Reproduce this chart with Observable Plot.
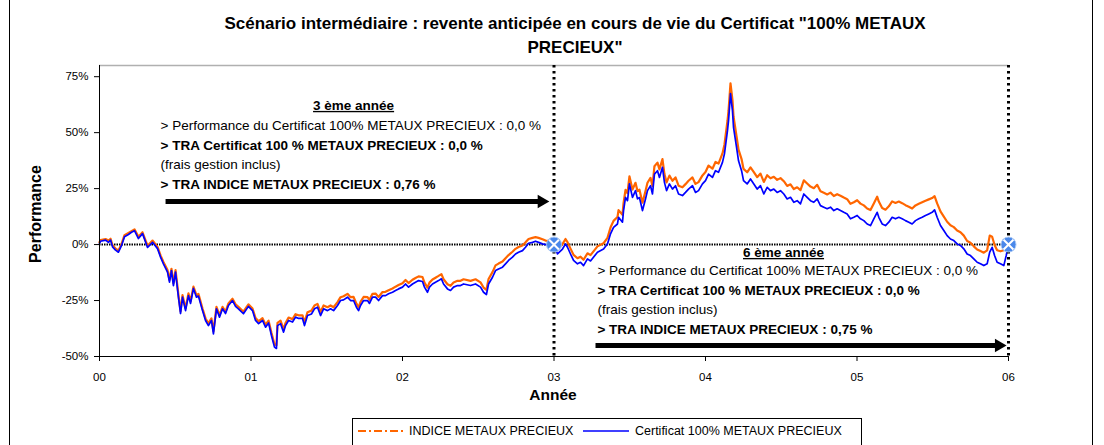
<!DOCTYPE html>
<html><head><meta charset="utf-8">
<script src="https://cdn.jsdelivr.net/npm/d3@7"></script>
<script src="https://cdn.jsdelivr.net/npm/@observablehq/plot@0.6"></script>
<style>
body{margin:0;background:#fff;font-family:"Liberation Sans",Arial,sans-serif;}
#wrap{position:relative;width:1104px;height:445px;overflow:hidden;background:#fff;}
#frame{position:absolute;left:9px;top:-2px;width:1084px;height:470px;border:1px solid #000;box-sizing:border-box;}
#title{position:absolute;left:0;width:1150px;top:12px;text-align:center;font-weight:bold;font-size:17px;line-height:24px;color:#000;}
#chart{position:absolute;left:0;top:0;}
#ylab{position:absolute;left:36px;top:214px;transform:translate(-50%,-50%) rotate(-90deg);font-weight:bold;font-size:16px;white-space:nowrap;}
#xlab{position:absolute;left:553px;top:395px;transform:translate(-50%,-50%);font-weight:bold;font-size:15.5px;}
#legend{position:absolute;left:352px;top:418px;width:510px;height:40px;border:1px solid #000;box-sizing:border-box;font-size:12.5px;}
#legend .it{position:absolute;top:5px;display:flex;align-items:center;white-space:nowrap;}
</style></head>
<body>
<div id="wrap">
  <div id="frame"></div>
  <div id="title">Scénario intermédiaire : revente anticipée en cours de vie du Certificat "100% METAUX<br>PRECIEUX"</div>
  <div id="chart"></div>
  <div id="ylab">Performance</div>
  <div id="xlab">Année</div>
  <div id="legend">
    <div class="it" style="left:3px"><svg width="50" height="14"><line x1="2" x2="48" y1="7" y2="7" stroke="#FF6600" stroke-width="2" stroke-dasharray="8 3 2 3"/></svg><span style="margin-left:3px">INDICE METAUX PRECIEUX</span></div>
    <div class="it" style="left:228px"><svg width="50" height="14"><line x1="2" x2="48" y1="7" y2="7" stroke="#0000FF" stroke-width="1.5"/></svg><span style="margin-left:4px">Certificat 100% METAUX PRECIEUX</span></div>
  </div>
</div>
<script>
// ---- data (years since start, performance in %) ----
const years = [0,0.007,0.040,0.059,0.073,0.086,0.106,0.125,0.145,0.165,0.191,0.211,0.231,0.257,0.284,0.317,0.350,0.383,0.403,0.422,0.449,0.462,0.475,0.488,0.502,0.521,0.535,0.548,0.568,0.587,0.601,0.620,0.640,0.653,0.680,0.700,0.719,0.739,0.752,0.772,0.792,0.812,0.832,0.851,0.878,0.898,0.917,0.950,0.983,1.010,1.030,1.050,1.076,1.096,1.116,1.135,1.155,1.168,1.175,1.195,1.215,1.228,1.248,1.274,1.294,1.314,1.340,1.353,1.373,1.399,1.419,1.439,1.459,1.479,1.505,1.525,1.545,1.571,1.591,1.611,1.637,1.657,1.677,1.696,1.710,1.723,1.743,1.769,1.782,1.802,1.822,1.842,1.868,1.888,1.908,1.934,1.954,1.974,2.000,2.020,2.040,2.066,2.086,2.106,2.132,2.145,2.165,2.178,2.198,2.218,2.238,2.257,2.271,2.297,2.317,2.337,2.363,2.383,2.403,2.449,2.482,2.515,2.535,2.554,2.568,2.594,2.614,2.634,2.660,2.680,2.700,2.726,2.746,2.766,2.792,2.812,2.832,2.858,2.878,2.898,2.924,2.944,3.000,3.023,3.056,3.076,3.089,3.109,3.129,3.155,3.175,3.195,3.221,3.241,3.287,3.327,3.353,3.373,3.393,3.419,3.426,3.452,3.459,3.472,3.485,3.498,3.518,3.538,3.551,3.564,3.584,3.604,3.617,3.637,3.650,3.663,3.683,3.696,3.716,3.729,3.743,3.762,3.782,3.802,3.822,3.848,3.868,3.888,3.914,3.934,3.954,3.980,4.000,4.020,4.046,4.066,4.086,4.112,4.125,4.145,4.152,4.165,4.178,4.185,4.205,4.218,4.238,4.251,4.275,4.297,4.319,4.341,4.363,4.385,4.407,4.429,4.451,4.473,4.495,4.517,4.539,4.561,4.583,4.605,4.627,4.649,4.671,4.693,4.715,4.737,4.759,4.781,4.803,4.825,4.847,4.869,4.891,4.913,4.935,4.957,4.979,5.001,5.023,5.045,5.067,5.089,5.111,5.133,5.144,5.166,5.188,5.210,5.232,5.254,5.276,5.298,5.320,5.342,5.364,5.386,5.408,5.430,5.452,5.474,5.496,5.512,5.529,5.551,5.573,5.595,5.617,5.639,5.661,5.683,5.705,5.727,5.749,5.771,5.793,5.815,5.837,5.859,5.876,5.892,5.908,5.925,5.947,5.969,5.985,6.000];

const certificat = [0.5,1.5,2,1,2,-1,-2.5,-3.4,-0.5,3.5,4.5,5.5,6.2,2.7,4.9,-1.3,1,-1.8,-5.6,-8.6,-12.3,-16.8,-11.6,-18.3,-12.3,-23.5,-30.8,-23.5,-29.5,-22.8,-26.3,-19.6,-23.5,-23,-29.5,-33.9,-36.2,-33.9,-39.9,-28.7,-32.4,-28.7,-30.8,-27.2,-25,-27.6,-28.7,-30.9,-27.6,-29.5,-33.9,-35.3,-33.9,-36.9,-35,-40.6,-45.8,-46.4,-36.2,-35.3,-39.1,-36.2,-33.9,-34.6,-32.4,-33,-33,-36.2,-31.7,-31,-28.7,-28,-31.7,-28.7,-29.5,-28.7,-29.5,-27.2,-25,-24.7,-23.5,-25,-25,-28,-29.5,-27.2,-25,-25,-26.3,-23.5,-23.5,-25,-22.8,-22.8,-22,-21.3,-20.5,-19.8,-19,-17.6,-19,-17.6,-16.8,-16.1,-16.5,-19,-21.3,-19,-17.6,-16.8,-16.1,-15.3,-17.6,-19.8,-20.5,-19,-18.3,-18.3,-17.6,-18.3,-17.6,-19,-21.3,-22.3,-17.6,-14.6,-11.6,-10.9,-10.1,-8.6,-7.1,-5.6,-4.2,-3.4,-2.7,-1.2,0.6,1,1.5,1,0.3,0,0,-4.2,-2,0.3,-1.2,-4.2,-7.1,-8.6,-7.9,-9.4,-6.4,-7.3,-3.4,-2,0.3,4.8,7.7,9.2,12.2,10,15.2,21.1,19.6,27.1,21.1,24.1,20.4,21,15.2,20.4,24.1,26.3,22.6,31.5,33,30,34.5,27.8,24.1,27.1,24.8,26.3,22.6,21.9,23.3,24.8,26.3,23.3,24.1,27.1,28.6,31.5,30,33,32.3,36.7,40.5,50.9,55.4,67.5,59.8,52.4,43.4,37.4,33,28.6,27.1,29.3,27.1,24.8,26.3,22.6,25.6,24.1,24.8,23.3,24.1,22.6,20.4,21.1,18.9,19.6,18.2,22.6,21.1,19.6,18.9,20.4,17.4,16.7,16,16.7,15.2,16,15.2,14.4,13.7,11.5,12.2,13,11.5,10.7,9.2,8.5,11.5,14.4,12.2,9.2,8.5,10,12.2,11.5,12.2,11.5,10.7,10,9.2,10.7,11.5,12.2,13,13.7,14.4,15.5,12.2,8.5,6.3,4,2.5,1.8,0.3,-0.4,-1.9,-4.2,-4.9,-6.4,-7.9,-8.6,-9.4,-8.6,-3.4,-1.2,-4.9,-7.9,-8.6,-9.4,-4.9,0];

const indice = [1,2,2.5,1.8,2.6,-0.3,-1.8,-2.6,0.2,4.2,5.2,6,6.8,3.5,5.5,-0.5,1.8,-1,-4.8,-7.8,-11.4,-15.8,-10.8,-17.3,-11.4,-22.5,-29.8,-22.6,-28.5,-21.8,-25.4,-18.8,-22.6,-22,-28.6,-33,-35.2,-33,-38.8,-27.8,-31.5,-27.8,-29.9,-26.3,-24.2,-26.7,-27.8,-30,-26.7,-28.6,-32.8,-34.3,-32.9,-35.8,-34,-39.4,-44.5,-45,-35,-34,-37.9,-35,-32.6,-33.3,-31.1,-31.6,-31.6,-34.8,-30.2,-29.5,-27.2,-26.5,-30.1,-27.2,-28,-27.2,-28,-25.7,-23.5,-23.1,-22,-23.5,-23.4,-26.4,-28,-25.6,-23.4,-23.5,-24.7,-22,-21.9,-23.4,-21.2,-21.1,-20.4,-19.6,-18.8,-18.1,-17.3,-15.8,-17.2,-15.7,-14.9,-14.2,-14.5,-17,-19.2,-17,-15.6,-14.8,-14,-13.2,-15.5,-17.7,-18.4,-16.9,-16.2,-16.2,-15.5,-16.2,-15.5,-16.9,-19.2,-20.2,-15.4,-12.3,-9.3,-8.5,-7.6,-6.1,-4.7,-3.2,-1.9,-1.1,-0.4,1,2.5,3,3.3,3,2.4,1.8,1.2,-2,0.2,2.5,1.1,-1.8,-4.6,-6.1,-5.4,-6.8,-3.9,-4.7,-0.8,0.6,3,7.6,10.6,12.3,15.4,13.3,18.5,24.4,23,30.5,24.6,27.6,23.9,24.5,18.7,23.9,27.6,29.8,26.2,35,36.6,33.6,38.2,31.5,27.8,30.8,28.5,30,26.3,25.6,27,28.5,30,27.1,27.9,30.9,32.4,35.3,33.9,36.9,36.2,40.7,44.6,55.2,59.8,72,64.5,57.2,48.3,42.4,38.2,33.8,32.3,34.5,32.4,30.1,31.7,28,31,29.6,30.3,28.9,29.7,28.3,26.2,26.9,24.8,25.6,24.3,28.7,27.3,25.9,25.2,26.7,23.8,23.1,22.4,23.2,21.7,22.5,21.8,21,20.3,18.2,18.9,19.8,18.3,17.5,16.1,15.4,18.4,21.4,19.2,16.3,15.6,17.1,19.3,18.6,19.2,18.5,17.6,16.9,16.1,17.5,18.2,18.9,19.6,20.2,20.8,21.6,18.4,14.8,12.5,10.2,8.6,7.8,6.3,5.5,4,1.6,0.8,-0.8,-2.2,-2.9,-3.6,-2.6,4,3.5,-0.2,-2.5,-3,-2.5,-1.5,0];

const xTicks = [0,1,2,3,4,5,6];
const xTickLabels = ["00","01","02","03","04","05","06"];
const yTicks = [-50,-25,0,25,50,75];

// annotation texts
const header3 = "3 ème année";
const lines3 = ["> Performance du Certificat 100% METAUX PRECIEUX : 0,0 %","> TRA Certificat 100 % METAUX PRECIEUX : 0,0 %","(frais gestion inclus)","> TRA INDICE METAUX PRECIEUX : 0,76 %"];
const header6 = "6 ème année";
const lines6 = ["> Performance du Certificat 100% METAUX PRECIEUX : 0,0 %","> TRA Certificat 100 % METAUX PRECIEUX : 0,0 %","(frais gestion inclus)","> TRA INDICE METAUX PRECIEUX : 0,75 %"];
const boldLine = [false,true,false,true];
const exitYears = [3,6];

// ---- annotation placement (data coordinates) ----
const pos3 = {hx:1.677, hy:62.1, x:0.403, ys:[53.1,44.2,35.7,26.8]};
const pos6 = {hx:4.515, hy:-3.6, x:3.287, ys:[-11.6,-20.5,-29,-37.9]};
const arrows = [{x1:0.436,x2:2.90,y:19.2,hx:2.918},{x1:3.274,x2:5.92,y:-45.1,hx:5.936}];

const series = years.map((t,i)=>({t, cert: certificat[i], ind: indice[i]}));
const textRows = [
  ...lines3.map((s,i)=>({x:pos3.x, y:pos3.ys[i], s, b:boldLine[i]})),
  ...lines6.map((s,i)=>({x:pos6.x, y:pos6.ys[i], s, b:boldLine[i]}))
];
const headers = [{x:pos3.hx,y:pos3.hy,s:header3},{x:pos6.hx,y:pos6.hy,s:header6}];

const chart = Plot.plot({
  width:1104, height:415,
  marginLeft:99, marginRight:96, marginTop:65, marginBottom:59,
  x:{domain:[0,6]},
  y:{domain:[-50,80]},
  style:{fontFamily:'"Liberation Sans", Arial, sans-serif', background:"transparent", color:"#000"},
  marks:[
    Plot.ruleY([80],{stroke:"#b0b0b0", strokeWidth:1.5}),
    Plot.axisY(yTicks,{tickFormat:d=>d+"%", tickSize:5, tickPadding:6, fontSize:11.5, label:null}),
    Plot.axisX(xTicks,{tickFormat:d=>xTickLabels[xTicks.indexOf(d)], tickSize:5, tickPadding:11, fontSize:11.5, label:null}),
    Plot.ruleY([0],{stroke:"#000", strokeWidth:2, strokeDasharray:"1.5 1"}),
    Plot.line(series,{x:"t", y:"ind", stroke:"#FF6600", strokeWidth:2.2}),
    Plot.line(series,{x:"t", y:"cert", stroke:"#0000FF", strokeWidth:1.7}),
    Plot.ruleX([0],{stroke:"#000", strokeWidth:1}),
    Plot.ruleY([-50],{stroke:"#000", strokeWidth:1}),
    Plot.ruleX(exitYears,{stroke:"#000", strokeWidth:3, strokeDasharray:"2.5 3.5"}),
    Plot.dot(exitYears,{x:d=>d, y:()=>0, r:7.5, fill:"#4a88ea", stroke:"#a9c8f5", strokeWidth:1}),
    Plot.dot(exitYears,{x:d=>d, y:()=>0, r:4.5, symbol:"times", stroke:"#fff", strokeWidth:2}),
    Plot.link(arrows,{x1:"x1", x2:"x2", y1:"y", y2:"y", stroke:"#000", strokeWidth:5}),
    Plot.dot(arrows,{x:"hx", y:"y", symbol:"triangle", rotate:90, r:5, fill:"#000", stroke:"none"}),
    Plot.text(textRows.filter(d=>!d.b),{x:"x", y:"y", text:"s", textAnchor:"start", fontSize:13.5, fontWeight:"normal", fill:"#000"}),
    Plot.text(textRows.filter(d=>d.b),{x:"x", y:"y", text:"s", textAnchor:"start", fontSize:13.5, fontWeight:"bold", fill:"#000"}),
    Plot.text(headers,{x:"x", y:"y", text:"s", textAnchor:"middle", fontSize:13.5, fontWeight:"bold", fill:"#000"})
  ]
});
d3.select(chart).selectAll("text").filter(function(){return this.textContent===header3||this.textContent===header6;}).style("text-decoration","underline");
document.getElementById("chart").appendChild(chart);
</script>
</body></html>
